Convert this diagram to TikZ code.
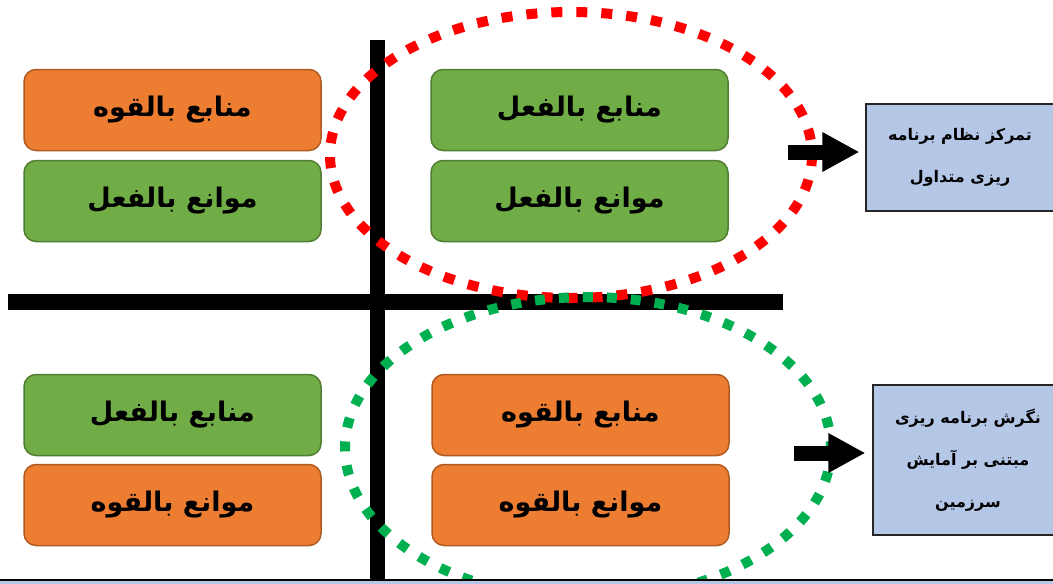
\documentclass[tikz,border=0pt]{standalone}
\usepackage{fontspec}
\newfontfamily\farsi[Script=Arabic]{DejaVu Sans}
\TeXXeTstate=1
\usetikzlibrary{arrows.meta}
\definecolor{qcol}{HTML}{ED7D31}
\definecolor{qline}{HTML}{AE5A21}
\definecolor{fcol}{HTML}{70AD47}
\definecolor{fline}{HTML}{507E32}
\definecolor{bcol}{HTML}{B4C7E7}
\definecolor{rdot}{HTML}{FF0000}
\definecolor{gdot}{HTML}{00B050}
\begin{document}
\begin{tikzpicture}[x=1pt,y=-1pt,>={Triangle[length=37pt,width=37pt]},
box/.style={rounded corners=12pt,line width=1.5pt,minimum width=297pt,minimum height=81pt,font=\farsi\bfseries\fontsize{27}{30}\selectfont},
qbox/.style={box,fill=qcol,draw=qline},
fbox/.style={box,fill=fcol,draw=fline},
rbox/.style={draw=black!85,line width=1.2pt,fill=bcol,align=center,font=\farsi\bfseries\fontsize{16}{42}\selectfont}]
\clip (0,0) rectangle (1053,584);
% axes
\draw[line width=15pt](377,40)--(377,584);
\draw[line width=16pt](8,302)--(783,302);
% left side
\node[qbox](ml1) at (172.5,110){\beginR منابع بالقوه\endR};
\node[fbox](mv1) at (172.5,201){\beginR موانع بالفعل\endR};
\node[fbox](ml3) at (172.5,415){\beginR منابع بالفعل\endR};
\node[qbox](mv3) at (172.5,505){\beginR موانع بالقوه\endR};
% right side
\node[fbox](ml2) at (579.5,110){\beginR منابع بالفعل\endR};
\node[fbox](mv2) at (579.5,201){\beginR موانع بالفعل\endR};
\node[qbox](ml4) at (580.5,415){\beginR منابع بالقوه\endR};
\node[qbox](mv4) at (580.5,505){\beginR موانع بالقوه\endR};
% dotted rings
\draw[rdot,line width=10pt,dash pattern=on 11pt off 14pt](571,155) ellipse[x radius=241,y radius=143];
\draw[gdot,line width=10pt,dash pattern=on 10pt off 14pt](588,448) ellipse[x radius=243,y radius=151];
% results
\node[rbox,minimum width=188pt,minimum height=107pt](r1) at (960,157.5){\beginR تمرکز نظام برنامه\endR\\\beginR ریزی متداول\endR};
\node[rbox,minimum width=214pt,minimum height=150pt](r2) at (980,460){};
\node[align=center,font=\farsi\bfseries\fontsize{16}{42}\selectfont](t2) at (968,460){\beginR نگرش برنامه ریزی\endR\\\beginR مبتنی بر آمایش\endR\\\beginR سرزمین\endR};
\path (788,152) coordinate (a1) (794,453) coordinate (a2);
\draw[->,line width=15pt,shorten >=6pt](a1)--(a1-|r1.west);
\draw[->,line width=15pt,shorten >=7pt](a2)--(a2-|r2.west);
% bottom strip
\draw[fill=bcol,line width=1.5pt](-5,580) rectangle (1060,600);
\end{tikzpicture}
\end{document}
